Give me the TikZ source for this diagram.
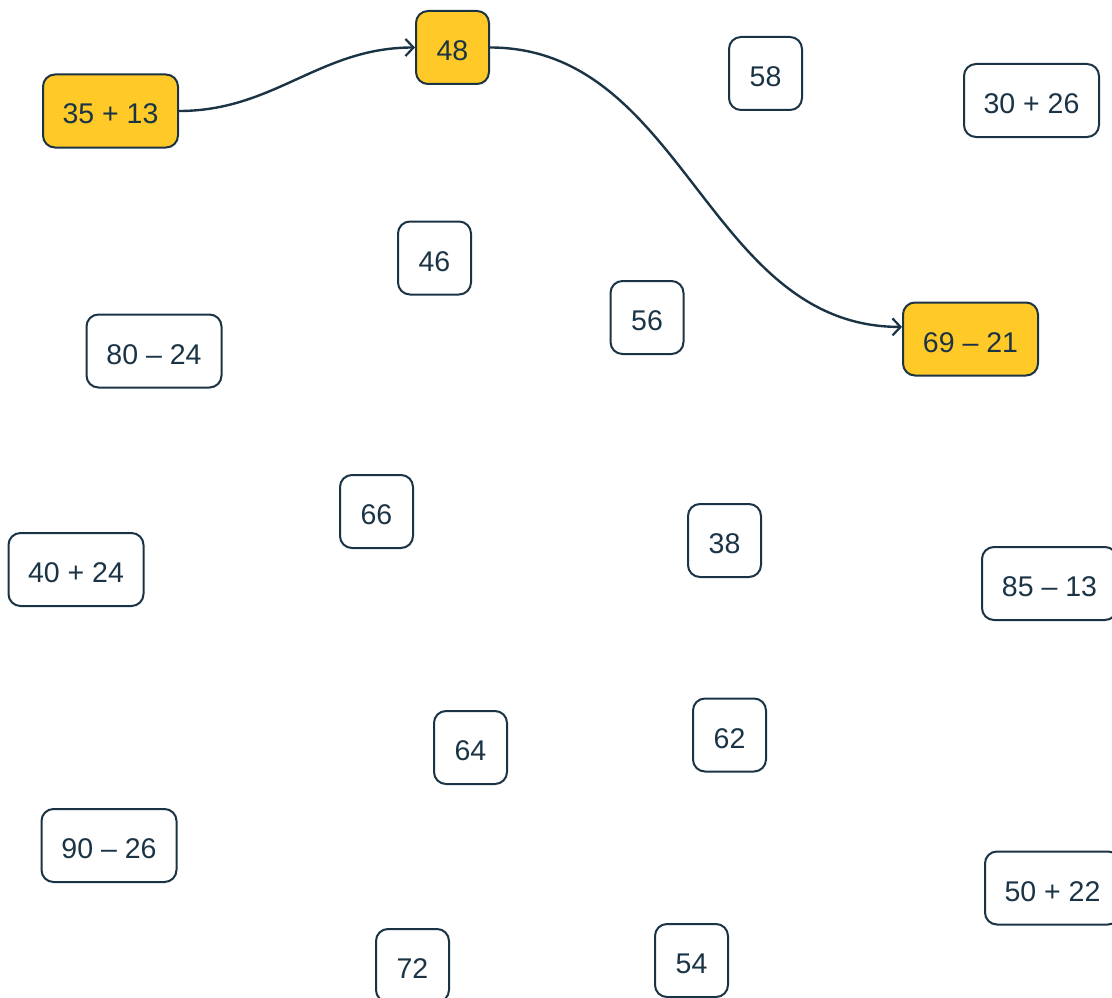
\documentclass[tikz,border=0pt]{standalone}
\usepackage{fontspec}
\setmainfont{Liberation Sans}
\usetikzlibrary{arrows.meta}
\definecolor{inkblue}{HTML}{1B3445}
\definecolor{pickyellow}{HTML}{FFC928}

\begin{document}
\begin{tikzpicture}[x=1pt, y=-1pt,
    card/.style={draw=inkblue, line width=2pt, fill=white, rounded corners=12pt, minimum width=73pt, minimum height=73pt, inner sep=0pt, text height=26pt, text depth=0pt, align=center, text=inkblue, font=\fontsize{28.5}{32}\selectfont},
    sumcard/.style={card, minimum width=135pt},
    picked/.style={fill=pickyellow},
    link/.style={-{Straight Barb[length=8pt,width=17pt,line width=2.2pt]}, line width=2.4pt, color=inkblue}]

    \useasboundingbox (0,0) rectangle (1112,998);
    \clip (0,0) rectangle (1112,998);

    % first row
    \node (s3513) [sumcard, picked] at (110.5,111) {35 + 13};
    \node (n48) [card, picked] at (452.5,47.5) {48};
    \node (n58) [card] at (765.5,73.5) {58};
    \node (s3026) [sumcard] at (1031.5,100.5) {30 + 26};

    \node (n46) [card] at (434.5,258) {46};
    \node (n56) [card] at (647,317.5) {56};
    \node (d8024) [sumcard] at (154,351) {80 – 24};
    \node (d6921) [sumcard, picked] at (970.5,339) {69 – 21};

    \node (n66) [card] at (376.5,511.5) {66};
    \node (n38) [card] at (724.5,540.5) {38};
    \node (s4024) [sumcard] at (76,569.5) {40 + 24};
    \node (d8513) [sumcard] at (1049.5,583.5) {85 – 13};

    \node (n62) [card] at (729.5,735) {62};
    \node (n64) [card] at (470.5,747.5) {64};
    \node (d9026) [sumcard] at (109,845.5) {90 – 26};
    \node (s5022) [sumcard] at (1052.5,888) {50 + 22};

    \node (n72) [card] at (412.5,965.5) {72};
    \node (n54) [card] at (691.5,960.5) {54};

    % the path
    \draw [link] (s3513.east) to[out=0, in=180] (n48.west);
    \draw [link] (n48.east) to[out=0, in=180] (d6921.170);
\end{tikzpicture}
\end{document}
